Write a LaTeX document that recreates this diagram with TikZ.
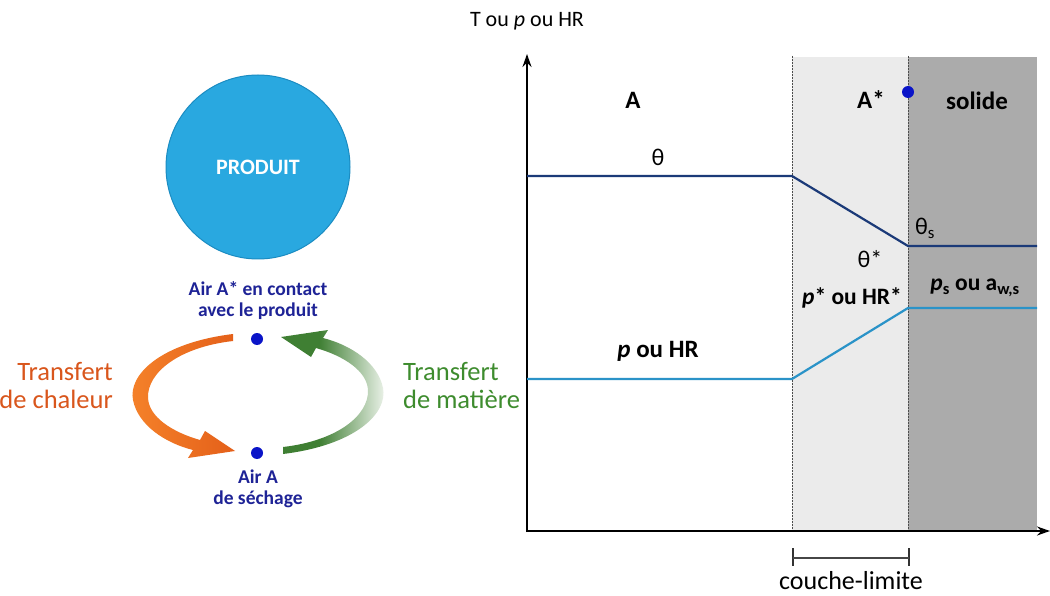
\documentclass[tikz,border=0pt]{standalone}
\usepackage{fontspec}
\setmainfont{Carlito}
\usetikzlibrary{arrows.meta}
\definecolor{circfill}{HTML}{29A8E0}
\definecolor{circedge}{HTML}{1B8CC2}
\definecolor{navytxt}{HTML}{1E2396}
\definecolor{dotblue}{HTML}{0A14C8}
\definecolor{orangetxt}{HTML}{D9561C}
\definecolor{orangeA}{HTML}{F5822A}
\definecolor{orangeB}{HTML}{E4601A}
\definecolor{greentxt}{HTML}{3E8C2E}
\definecolor{greenA}{HTML}{3F7F33}
\definecolor{greenpale}{HTML}{EEF4EC}
\definecolor{thetacol}{HTML}{1B3A78}
\definecolor{pcol}{HTML}{2A93C8}
\definecolor{lightgray}{HTML}{EBEBEB}
\definecolor{darkgray}{HTML}{ABABAB}
\tikzset{
  lbl/.style={inner sep=0pt, align=center},
  dotnode/.style={circle, fill=dotblue, minimum size=12pt, inner sep=0pt},
  chartbold/.style={inner sep=0pt, font=\fontsize{25}{28}\selectfont\bfseries},
  chartreg/.style={inner sep=0pt, font=\fontsize{24}{28}\selectfont},
  divline/.style={gray!60!black, line width=0.9pt, dash pattern=on 1.6pt off 1.4pt},
  axisline/.style={black, line width=2pt, -{Stealth[length=13pt,width=9pt]}},
}
\newcommand{\curvedarrowpath}{%
  (233,334) .. controls (160,343) and (128,375) .. (133,400)
  .. controls (138,425) and (165,443) .. (193,450)
  -- (188,458) -- (235,451) -- (205,431) -- (200,440)
  .. controls (172,432) and (149,417) .. (148,398)
  .. controls (147,372) and (180,347) .. (233,341) -- cycle}
\begin{document}
\begin{tikzpicture}[x=1pt,y=-1pt]
\useasboundingbox (0,0) rectangle (1050,596);
\fill[white] (0,0) rectangle (1050,596);

% ---------- left part ----------
\node[circle, fill=circfill, draw=circedge, line width=1pt, minimum size=184pt, inner sep=0pt,
      text=white, font=\fontsize{22}{26}\selectfont\bfseries] (produit) at (258,167) {PRODUIT};

\node[lbl, text=navytxt, font=\fontsize{19.5}{22}\selectfont\bfseries] (airstar) at (258,301)
  {Air A* en contact\\[-1pt]avec le produit};
\node[dotnode] (dtop) at (257,339) {};
\node[dotnode] (dbot) at (257,453) {};
\node[lbl, text=navytxt, font=\fontsize{19.5}{22}\selectfont\bfseries] (aira) at (258,489)
  {Air A\\[-1pt]de séchage};

% heat transfer arrow (orange)
\shade[left color=orangeA, right color=orangeB] \curvedarrowpath;
% mass transfer arrow (green, fading on its right side)
\begin{scope}
  \clip[rotate around={180:(258,394)}] \curvedarrowpath;
  \fill[greenA] (270,320) rectangle (320,470);
  \shade[left color=greenA, right color=greenpale] (319,320) rectangle (386,470);
\end{scope}

\node[lbl, anchor=east, align=right, text=orangetxt, font=\fontsize{26.5}{28}\selectfont] (tchal) at (113,386)
  {Transfert\\de chaleur};
\node[lbl, anchor=west, align=left, text=greentxt, font=\fontsize{26.5}{28}\selectfont] (tmat) at (403,386)
  {Transfert\\de matière};

% ---------- chart ----------
\fill[lightgray] (792,57) rectangle (908,530);
\fill[darkgray] (908,57) rectangle (1037,530);
\draw[divline] (792,56) -- (792,530);
\draw[divline] (908,56) -- (908,530);

\coordinate (orig) at (527,531);
\coordinate (ytip) at (527,54);
\coordinate (xtip) at (1050,531);
\draw[axisline] (527,532) -- (ytip);
\draw[axisline] (526,531) -- (xtip);

\node[inner sep=0pt, font=\fontsize{22}{24}\selectfont] (ylab) at (527,21) {T ou \textit{p} ou HR};

% theta line
\coordinate (t0) at (527,176);
\coordinate (t1) at (792,176);
\coordinate (t2) at (908,246);
\coordinate (t3) at (1037,246);
\draw[thetacol, line width=2.2pt, line join=miter] (t0) -- (t1) -- (t2) -- (t3);
% p line
\coordinate (p0) at (527,379);
\coordinate (p1) at (792,379);
\coordinate (p2) at (908,308);
\coordinate (p3) at (1037,308);
\draw[pcol, line width=2.2pt, line join=miter] (p0) -- (p1) -- (p2) -- (p3);

\node[chartbold] (la) at (633,100) {A};
\node[chartbold] (lastar) at (871,100) {A*};
\node[dotnode] (dchart) at (908,92) {};
\node[chartbold] (lsol) at (977,101) {solide};

\node[chartreg] (lth) at (658,157) {θ};
\node[chartreg] (lths) at (925,228) {θ\textsubscript{s}};
\node[chartreg] (lthstar) at (870,259) {θ*};

\node[chartbold] (lpou) at (658,351) {\textit{p} ou HR};
\node[chartbold, font=\fontsize{23.5}{26}\selectfont\bfseries] (lpstar) at (852,298) {\textit{p}* ou HR*};
\node[chartbold, font=\fontsize{23.5}{26}\selectfont\bfseries] (lps) at (975,288) {\textit{p}\textsubscript{s} ou a\textsubscript{w,s}};

% couche-limite bracket
\coordinate (bl) at (793,558);
\coordinate (br) at (909,558);
\draw[gray!40!black, line width=1.6pt] (793,548) -- (793,566);
\draw[gray!40!black, line width=1.6pt] (909,548) -- (909,566);
\draw[gray!55!black, line width=1.4pt] (bl) -- (br);
\node[inner sep=0pt, font=\fontsize{26}{28}\selectfont] (lcl) at (851,581) {couche-limite};
\end{tikzpicture}
\end{document}
